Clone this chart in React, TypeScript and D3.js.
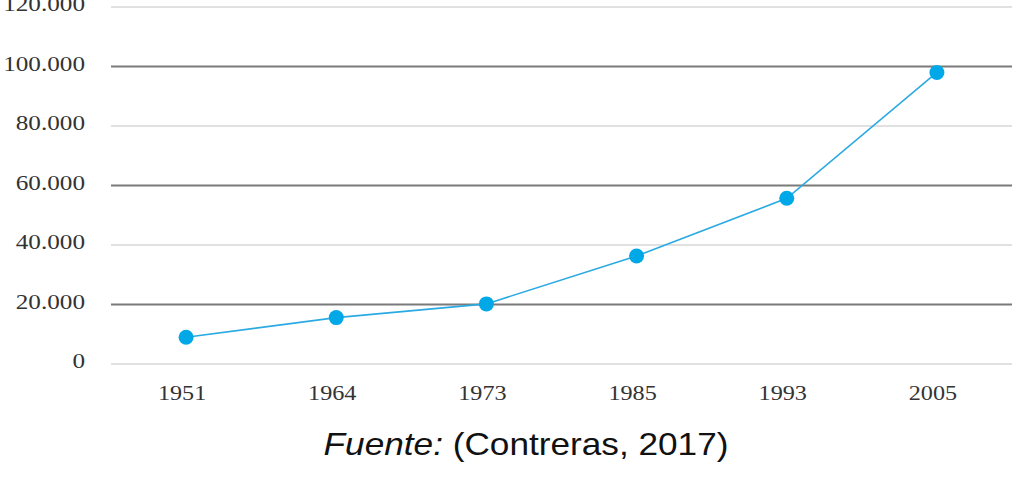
import React from "react";
import * as d3 from "d3";

const years = ["1951", "1964", "1973", "1985", "1993", "2005"];
const population = [9000, 15600, 20200, 36300, 55700, 98000];
const yTicks = [0, 20000, 40000, 60000, 80000, 100000, 120000];
const caption = { italic: "Fuente:", rest: " (Contreras, 2017)" };

const W = 1021;
const H = 480;

export default function App() {
  const x = d3.scaleBand<string>().domain(years).range([111, 1012]);
  const y = d3.scaleLinear().domain([0, 120000]).range([364, 7]);
  const fmt = (v: number) => (v === 0 ? "0" : d3.format(",")(v).replace(/,/g, "."));
  const cx = (d: string) => (x(d) as number) + x.bandwidth() / 2;
  const line = d3
    .line<number>()
    .x((_, i) => cx(years[i]))
    .y((d) => y(d));

  return (
    <svg
      width={W}
      height={H}
      style={{ position: "absolute", left: 0, top: 0, background: "#fff" }}
    >
      {yTicks.map((t, i) => {
        const dark = i % 2 === 1;
        return (
          <g key={t}>
            <line
              x1={111}
              x2={1012}
              y1={y(t)}
              y2={y(t)}
              stroke={dark ? "#7a7a7a" : "#c4c4c4"}
              strokeWidth={dark ? 2 : 1.2}
            />
            <g transform={`translate(85,${y(t) + 4}) scale(1.2,1)`}>
              <text
                x={0}
                y={0}
                textAnchor="end"
                fontFamily="'Liberation Serif', 'DejaVu Serif', serif"
                fontSize={21}
                fill="#333"
              >
                {fmt(t)}
              </text>
            </g>
          </g>
        );
      })}
      {years.map((yr) => (
        <g key={yr} transform={`translate(${cx(yr) - 4},400) scale(1.1,1)`}>
          <text
            textAnchor="middle"
            fontFamily="'Liberation Serif', 'DejaVu Serif', serif"
            fontSize={22}
            fill="#333"
          >
            {yr}
          </text>
        </g>
      ))}
      <path
        d={line(population) || ""}
        fill="none"
        stroke="#2aaae2"
        strokeWidth={1.6}
      />
      {population.map((v, i) => (
        <circle key={i} cx={cx(years[i])} cy={y(v)} r={7.5} fill="#00a8e8" />
      ))}
      <g transform="translate(526,455) scale(1.1,1)">
        <text
          textAnchor="middle"
          fontFamily="'Liberation Sans', Arial, sans-serif"
          fontSize={32}
          fill="#111"
        >
          <tspan fontStyle="italic">{caption.italic}</tspan>
          {caption.rest}
        </text>
      </g>
    </svg>
  );
}
